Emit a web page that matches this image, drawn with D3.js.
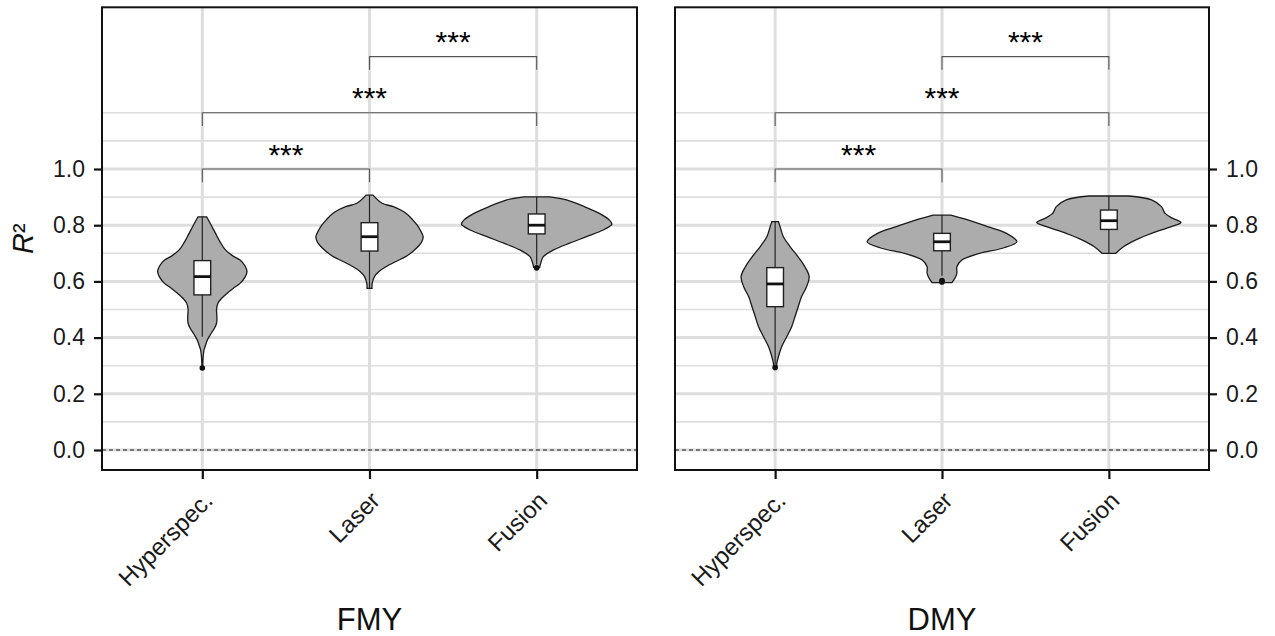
<!DOCTYPE html>
<html>
<head>
<meta charset="utf-8">
<script src="https://cdn.jsdelivr.net/npm/d3@7"></script>
<style>
  body { margin: 0; background: #fff; }
  svg { display: block; font-family: "Liberation Sans", Arial, sans-serif; }
</style>
</head>
<body>
<svg id="chart" width="1275" height="636"></svg>
<script>
// ---------------- DATA ----------------
const categories = ["Hyperspec.", "Laser", "Fusion"];
const facets = ["FMY", "DMY"];
const yTicks = [0, 0.2, 0.4, 0.6, 0.8, 1.0];
const yMinorBreaks = [0.1, 0.3, 0.5, 0.7, 0.9, 1.1, 1.2];

// violin density profiles: [R², density]
const fmyHyperspecDensity = [[0.830,0.43],[0.80,0.9],[0.771,1.33],[0.74,1.8],[0.712,2.33],[0.69,3.1],[0.676,3.8],[0.655,4.3],[0.635,4.5],[0.615,4.3],[0.593,3.8],[0.575,3.1],[0.558,2.5],[0.54,1.95],[0.522,1.57],[0.50,1.43],[0.486,1.45],[0.465,1.47],[0.451,1.43],[0.435,1.25],[0.421,1.0],[0.405,0.72],[0.391,0.5],[0.37,0.3],[0.356,0.17],[0.33,0.08],[0.31,0.05],[0.292,0.04]];
const fmyLaserDensity = [[0.907,0.35],[0.878,1.27],[0.866,2.4],[0.842,3.7],[0.819,4.35],[0.80,4.8],[0.783,5.1],[0.759,5.4],[0.74,5.25],[0.724,4.9],[0.705,4.3],[0.688,3.65],[0.67,2.6],[0.652,1.65],[0.635,0.95],[0.617,0.5],[0.593,0.27],[0.575,0.25]];
const fmyFusionDensity = [[0.901,1.3],[0.89,3.0],[0.866,4.8],[0.842,6.3],[0.819,7.3],[0.804,7.57],[0.795,7.3],[0.783,6.7],[0.759,5.0],[0.736,3.3],[0.712,1.7],[0.688,0.67],[0.664,0.4],[0.65,0.3]];
const dmyHyperspecDensity = [[0.813,0.33],[0.795,0.5],[0.759,0.83],[0.724,1.5],[0.688,2.3],[0.652,3.0],[0.617,3.43],[0.581,3.17],[0.546,2.67],[0.510,2.33],[0.474,2.0],[0.439,1.67],[0.403,1.17],[0.368,0.67],[0.332,0.33],[0.308,0.17],[0.294,0.15]];
const dmyLaserDensity = [[0.836,0.9],[0.819,2.6],[0.795,4.6],[0.771,6.5],[0.741,7.55],[0.718,6.1],[0.700,3.8],[0.676,2.0],[0.652,1.5],[0.629,1.5],[0.611,1.3],[0.601,1.1],[0.596,1.0]];
const dmyFusionDensity = [[0.904,2.0],[0.890,4.3],[0.866,5.3],[0.842,5.67],[0.825,6.4],[0.810,7.27],[0.795,6.3],[0.771,4.3],[0.747,2.67],[0.724,1.5],[0.700,0.7]];

// box stats: [lower whisker, Q1, median, Q3, upper whisker]
const fmyBoxStats = [[0.403,0.552,0.617,0.674,0.830],[0.575,0.708,0.759,0.809,0.907],[0.660,0.769,0.800,0.840,0.901]];
const dmyBoxStats = [[0.305,0.510,0.591,0.649,0.813],[0.620,0.709,0.741,0.771,0.836],[0.700,0.785,0.816,0.854,0.904]];
const fmyOutliers = [[0.292],[],[0.648]];
const dmyOutliers = [[0.294],[0.603,0.598],[]];

// significance comparisons
const comparisonFrom = ["Hyperspec.", "Hyperspec.", "Laser"];
const comparisonTo = ["Laser", "Fusion", "Fusion"];
const comparisonY = [1.0, 1.2, 1.4];
const comparisonLabel = ["***", "***", "***"];

const panelData = [
  { facet: facets[0], densities: [fmyHyperspecDensity, fmyLaserDensity, fmyFusionDensity], boxes: fmyBoxStats, outliers: fmyOutliers },
  { facet: facets[1], densities: [dmyHyperspecDensity, dmyLaserDensity, dmyFusionDensity], boxes: dmyBoxStats, outliers: dmyOutliers }
];

// ---------------- LAYOUT ----------------
const svg = d3.select("#chart");
const panels = [{ left: 102, right: 637, axis: "left" }, { left: 675, right: 1209, axis: "right" }];
const plotTop = 7.3, plotBottom = 470;

const y = d3.scaleLinear().domain([-0.0712, 1.5755]).range([plotBottom, plotTop]);
const maxDensity = d3.max(panelData.flatMap(p => p.densities.flat().map(d => d[1])));

const gridColor = "#dedede";

panels.forEach((pan, pi) => {
  const pd = panelData[pi];
  const x = d3.scalePoint().domain(categories).range([pan.left, pan.right]).padding(0.6);
  const step = x.step();
  const w = d3.scaleLinear().domain([0, maxDensity]).range([0, 0.45 * step]);
  const g = svg.append("g");

  g.append("rect").attr("x", pan.left).attr("y", plotTop).attr("width", pan.right - pan.left).attr("height", plotBottom - plotTop).attr("fill", "#fff");

  g.selectAll(".minor").data(yMinorBreaks).join("line")
    .attr("x1", pan.left).attr("x2", pan.right)
    .attr("y1", d => y(d)).attr("y2", d => y(d))
    .attr("stroke", gridColor).attr("stroke-width", 1.6);
  g.selectAll(".major").data(yTicks).join("line")
    .attr("x1", pan.left).attr("x2", pan.right)
    .attr("y1", d => y(d)).attr("y2", d => y(d))
    .attr("stroke", gridColor).attr("stroke-width", 3);
  g.selectAll(".vmajor").data(categories).join("line")
    .attr("x1", d => x(d)).attr("x2", d => x(d))
    .attr("y1", plotTop).attr("y2", plotBottom)
    .attr("stroke", gridColor).attr("stroke-width", 3);

  g.append("line").attr("x1", pan.left).attr("x2", pan.right)
    .attr("y1", y(0)).attr("y2", y(0))
    .attr("stroke", "#111").attr("stroke-width", 1).attr("stroke-dasharray", "4,3");

  const tip = 0.047;
  comparisonFrom.forEach((from, i) => {
    const x1 = x(from), x2 = x(comparisonTo[i]), yy = comparisonY[i];
    g.append("path")
      .attr("d", d3.line()([[x1, y(yy - tip)], [x1, y(yy)], [x2, y(yy)], [x2, y(yy - tip)]]))
      .attr("fill", "none").attr("stroke", "#555").attr("stroke-width", 1.1);
    g.append("text").attr("x", (x1 + x2) / 2).attr("y", y(yy) - 4.5)
      .attr("text-anchor", "middle").attr("font-size", 30).attr("fill", "#000")
      .text(comparisonLabel[i]);
  });

  const area = d3.area().y(d => y(d[0])).curve(d3.curveCatmullRom);
  categories.forEach((c, ci) => {
    const cx = x(c);
    g.append("path")
      .datum(pd.densities[ci])
      .attr("d", area.x0(d => cx - w(d[1])).x1(d => cx + w(d[1])))
      .attr("fill", "#acacac").attr("stroke", "#1a1a1a").attr("stroke-width", 1.3);
  });

  const bw = 0.1 * step;
  categories.forEach((c, ci) => {
    const cx = x(c), s = pd.boxes[ci];
    g.append("line").attr("x1", cx).attr("x2", cx).attr("y1", y(s[4])).attr("y2", y(s[3]))
      .attr("stroke", "#222").attr("stroke-width", 1.2);
    g.append("line").attr("x1", cx).attr("x2", cx).attr("y1", y(s[1])).attr("y2", y(s[0]))
      .attr("stroke", "#222").attr("stroke-width", 1.2);
    g.append("rect").attr("x", cx - bw / 2).attr("width", bw)
      .attr("y", y(s[3])).attr("height", y(s[1]) - y(s[3]))
      .attr("fill", "#fff").attr("stroke", "#222").attr("stroke-width", 1.4);
    g.append("line").attr("x1", cx - bw / 2).attr("x2", cx + bw / 2)
      .attr("y1", y(s[2])).attr("y2", y(s[2]))
      .attr("stroke", "#111").attr("stroke-width", 2.8);
    g.selectAll(null).data(pd.outliers[ci]).join("circle")
      .attr("cx", cx).attr("cy", d => y(d)).attr("r", 2.8).attr("fill", "#111");
  });

  g.append("rect").attr("x", pan.left).attr("y", plotTop).attr("width", pan.right - pan.left).attr("height", plotBottom - plotTop)
    .attr("fill", "none").attr("stroke", "#111").attr("stroke-width", 2);

  const yAxis = (pan.axis === "left" ? d3.axisLeft(y) : d3.axisRight(y))
    .tickValues(yTicks).tickFormat(d3.format(".1f")).tickSize(8).tickPadding(9);
  const ya = g.append("g").attr("transform", `translate(${pan.axis === "left" ? pan.left : pan.right},0)`).call(yAxis);
  ya.select(".domain").remove();
  ya.selectAll(".tick line").attr("stroke", "#111").attr("stroke-width", 2.2);
  ya.selectAll(".tick text").attr("font-size", 23).attr("fill", "#1a1a1a")
    .attr("font-family", "Liberation Sans, Arial, sans-serif");

  const xAxis = d3.axisBottom(x).tickSize(9).tickFormat("");
  const xa = g.append("g").attr("transform", `translate(0,${plotBottom})`).call(xAxis);
  xa.select(".domain").remove();
  xa.selectAll(".tick line").attr("stroke", "#111").attr("stroke-width", 2.2);
  g.selectAll(".xlab").data(categories).join("text")
    .attr("transform", d => `translate(${x(d) + 12},${plotBottom + 32}) rotate(-45)`)
    .attr("text-anchor", "end").attr("font-size", 24).attr("fill", "#1a1a1a")
    .text(d => d);

  g.append("text").attr("x", (pan.left + pan.right) / 2).attr("y", 630)
    .attr("text-anchor", "middle").attr("font-size", 31).attr("fill", "#111")
    .text(pd.facet);
});

const yt = svg.append("text").attr("transform", `translate(33,${(plotTop + plotBottom) / 2}) rotate(-90)`)
  .attr("text-anchor", "middle").attr("font-size", 29).attr("fill", "#111");
yt.append("tspan").attr("font-style", "italic").text("R");
yt.append("tspan").text("²");
</script>
</body>
</html>
